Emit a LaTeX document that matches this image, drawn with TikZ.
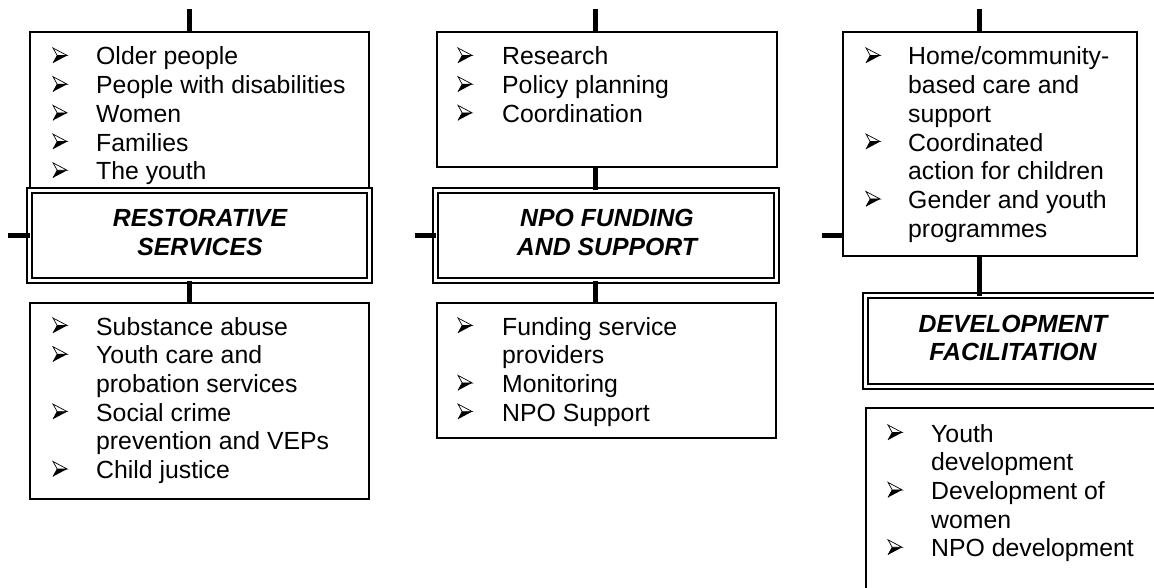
\documentclass[tikz,border=0pt]{standalone}
\usepackage{fontspec}
\setmainfont{Liberation Sans}
\newcommand\bitem[5]{% name, bullet x, text x, baseline y, text
  \pic (#1b) at (#2,#4-9.5) {arrowbullet};
  \node[itm] (#1) at (#3,#4) {#5};}
\newcommand\citem[4]{% name, text x, baseline y, text
  \node[itm] (#1) at (#2,#3) {#4};}
\tikzset{
  box/.style={draw=black, line width=1.8pt, fill=white, inner sep=0pt, outer sep=0pt, anchor=north west},
  dbox/.style={draw=black, line width=2pt, double=white, double distance=3pt, fill=white, inner sep=0pt, outer sep=0pt, anchor=north west},
  conn/.style={draw=black, line width=5pt},
  itm/.style={anchor=base west, inner sep=0pt, font=\fontsize{24.8}{28.7}\selectfont},
  ttl/.style={anchor=base, inner sep=0pt, font=\fontsize{24.8}{28.7}\selectfont\bfseries\itshape},
  arrowbullet/.pic={
    \fill[black] (4.2,0) -- (14.2,0) -- (0,7.5) -- cycle;
    \draw[black, line width=0.7pt, line join=miter] (0,-7.5) -- (14.2,0) -- (4.2,0) -- cycle;
    \draw[black, line width=0.7pt] (4.2,0) -- (0,7.5);
  },
}
\begin{document}
\begin{tikzpicture}[x=1pt, y=-1pt]
\useasboundingbox (0,0) rectangle (1154,588);
\clip (0,0) rectangle (1154,588);
% boxes
\node[box, minimum width=339pt, minimum height=156pt] (b1t) at (30,32) {};
\node[dbox, minimum width=340pt, minimum height=90pt] (r1) at (29.5,190.5) {};
\node[box, minimum width=339pt, minimum height=196pt] (b1b) at (30,303) {};
\node[box, minimum width=340pt, minimum height=135pt] (b2t) at (437,32) {};
\node[dbox, minimum width=341pt, minimum height=90pt] (r2) at (435.5,190.5) {};
\node[box, minimum width=339pt, minimum height=135pt] (b2b) at (437,303) {};
\node[box, minimum width=294pt, minimum height=224pt] (b3t) at (843,32) {};
\node[dbox, minimum width=295pt, minimum height=91pt] (r3) at (865.5,295.5) {};
\node[box, minimum width=294pt, minimum height=200pt] (b3b) at (866,408) {};
% connectors
\coordinate (t1) at (189,9);
\coordinate (l1) at (8,236);
\draw[conn] (t1) -- (t1 |- b1t.north);
\draw[conn] (t1 |- r1.south) -- (t1 |- b1b.north);
\draw[conn] (l1) -- (l1 -| r1.west);
\coordinate (t2) at (595,9);
\coordinate (l2) at (415,236);
\draw[conn] (t2) -- (t2 |- b2t.north);
\draw[conn] (t2 |- b2t.south) -- (t2 |- r2.north);
\draw[conn] (t2 |- r2.south) -- (t2 |- b2b.north);
\draw[conn] (l2) -- (l2 -| r2.west);
\coordinate (t3) at (979,9);
\coordinate (l3) at (822,236);
\draw[conn] (t3) -- (t3 |- b3t.north);
\draw[conn] (t3 |- b3t.south) -- (t3 |- r3.north);
\draw[conn] (l3) -- (l3 -| b3t.west);
% column 1 top
\bitem{a1}{53}{96}{65}{Older people}
\bitem{a2}{53}{96}{93.7}{People with disabilities}
\bitem{a3}{53}{96}{122.4}{Women}
\bitem{a4}{53}{96}{151.1}{Families}
\bitem{a5}{53}{96}{179.8}{The youth}
\node[ttl] (r1a) at (200,227) {RESTORATIVE};
\node[ttl] (r1b) at (200,255) {SERVICES};
% column 1 bottom
\bitem{c1}{53}{96}{335}{Substance abuse}
\bitem{c2}{53}{96}{363.7}{Youth care and}
\citem{c2x}{96}{392.4}{probation services}
\bitem{c3}{53}{96}{421.1}{Social crime}
\citem{c3x}{96}{449.8}{prevention and VEPs}
\bitem{c4}{53}{96}{478.5}{Child justice}
% column 2 top
\bitem{d1}{458}{502}{65}{Research}
\bitem{d2}{458}{502}{93.7}{Policy planning}
\bitem{d3}{458}{502}{122.4}{Coordination}
\node[ttl] (r2a) at (607,227) {NPO FUNDING};
\node[ttl] (r2b) at (607,255) {AND SUPPORT};
% column 2 bottom
\bitem{e1}{458}{502}{335}{Funding service}
\citem{e1x}{502}{363.7}{providers}
\bitem{e2}{458}{502}{392.4}{Monitoring}
\bitem{e3}{458}{502}{421.1}{NPO Support}
% column 3 top
\bitem{f1}{866}{908}{65}{Home/community-}
\citem{f1x}{908}{93.7}{based care and}
\citem{f1y}{908}{122.4}{support}
\bitem{f2}{866}{908}{151.1}{Coordinated}
\citem{f2x}{908}{179.8}{action for children}
\bitem{f3}{866}{908}{208.5}{Gender and youth}
\citem{f3x}{908}{237.2}{programmes}
\node[ttl] (r3a) at (1013,332) {DEVELOPMENT};
\node[ttl] (r3b) at (1013,360) {FACILITATION};
% column 3 bottom
\bitem{g1}{888}{931}{442}{Youth}
\citem{g1x}{931}{470.7}{development}
\bitem{g2}{888}{931}{499.4}{Development of}
\citem{g2x}{931}{528.1}{women}
\bitem{g3}{888}{931}{556.8}{NPO development}
\end{tikzpicture}
\end{document}
